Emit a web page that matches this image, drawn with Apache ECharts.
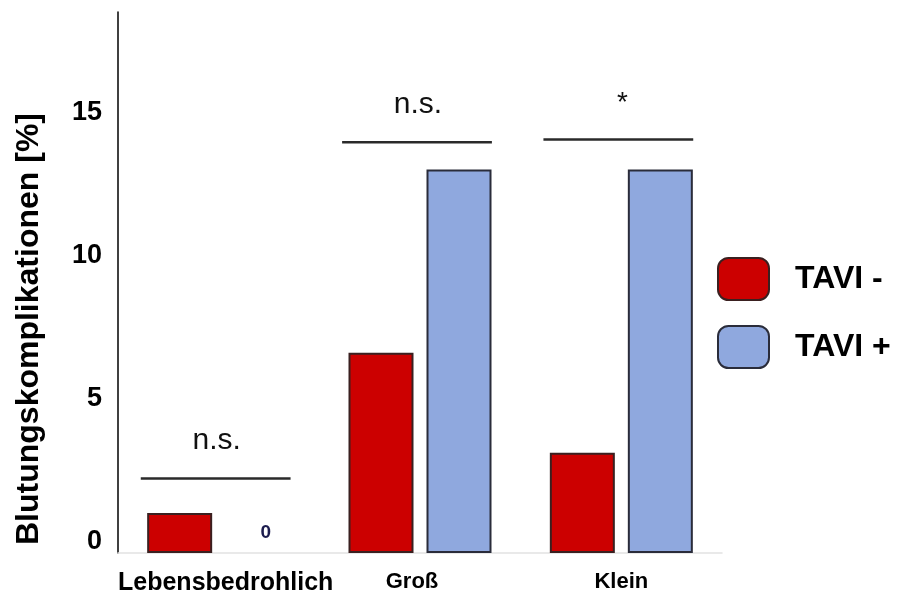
<!DOCTYPE html>
<html>
<head>
<meta charset="utf-8">
<script src="https://cdn.jsdelivr.net/npm/echarts@6/dist/echarts.min.js"></script>
<style>
  html, body { margin: 0; padding: 0; background: #fff; }
  #chart { width: 898px; height: 596px; }
</style>
</head>
<body>
<div id="chart"></div>
<script>
// Bleeding complications by severity, with and without TAVI
const categories = ['Lebensbedrohlich', 'Groß', 'Klein'];
const taviMinus = [1.4, 7.0, 3.5];
const taviPlus = [0, 13.4, 13.4];
const seriesNames = ['TAVI -', 'TAVI +'];

// Significance brackets above each group
const bracketLevels = [2.6, 14.35, 14.45];
const bracketLabels = ['n.s.', 'n.s.', '*'];

const yTicks = [0, 5, 10, 15];

const FONT = '"Liberation Sans", Arial, Helvetica, sans-serif';

const chart = echarts.init(document.getElementById('chart'), null, { renderer: 'canvas' });

const bracketData = categories.map((c, i) => [i, bracketLevels[i], bracketLabels[i]]);

// per-category label styles (first label is set wider, second sits a little left)
const labelStyleKeys = ['wide', 'left', 'n'];

const option = {
  animation: false,
  backgroundColor: '#ffffff',
  grid: { left: 118, right: 176, top: 12, bottom: 43, containLabel: false },
  xAxis: {
    type: 'category',
    data: categories,
    axisLine: { show: true, lineStyle: { color: '#e2e2e2', width: 1.5 } },
    axisTick: { show: false },
    axisLabel: {
      interval: 0,
      margin: 18,
      formatter: (v, i) => '{' + labelStyleKeys[i] + '|' + v + '}',
      rich: {
        wide: { color: '#000', fontFamily: FONT, fontWeight: 'bold', fontSize: 25, padding: [0, 0, 0, 14] },
        left: { color: '#000', fontFamily: FONT, fontWeight: 'bold', fontSize: 22, padding: [0, 16, 0, 0] },
        n: { color: '#000', fontFamily: FONT, fontWeight: 'bold', fontSize: 22, padding: [0, 0, 0, 0] }
      }
    }
  },
  yAxis: {
    type: 'value',
    min: 0,
    max: 18.9,
    interval: 5,
    splitLine: { show: false },
    axisTick: { show: false },
    axisLine: { show: true, lineStyle: { color: '#000', width: 1.5 } },
    axisLabel: {
      color: '#000', fontFamily: FONT, fontWeight: 'bold', fontSize: 27, margin: 16,
      verticalAlign: 'bottom',
      lineHeight: 22,
      formatter: v => (yTicks.indexOf(v) >= 0 ? String(v) : '')
    }
  },
  legend: {
    orient: 'vertical',
    left: 717,
    top: 257,
    padding: 0,
    itemWidth: 51,
    itemHeight: 42,
    itemGap: 24,
    icon: 'roundRect',
    data: seriesNames,
    textStyle: {
      color: '#000', fontFamily: FONT, fontWeight: 'bold', fontSize: 32,
      padding: [0, 0, 0, 21]
    }
  },
  graphic: [{
    type: 'text',
    left: 13,
    top: 113,
    rotation: Math.PI / 2,
    style: {
      text: 'Blutungskomplikationen [%]',
      font: 'bold 32px ' + FONT,
      fill: '#000'
    }
  }],
  series: [
    {
      name: seriesNames[0],
      type: 'bar',
      data: taviMinus,
      barWidth: 65,
      barGap: '20%',
      itemStyle: { color: '#cc0000', borderColor: '#3a2020', borderWidth: 2, borderRadius: 0 }
    },
    {
      name: seriesNames[1],
      type: 'bar',
      data: taviPlus.map(v => v === 0
        ? { value: v, label: { show: true }, itemStyle: { borderWidth: 0 } }
        : v),
      barWidth: 65,
      barGap: '20%',
      itemStyle: { color: '#8fa8de', borderColor: '#2a2c3a', borderWidth: 2, borderRadius: 0 },
      label: {
        show: false,
        position: 'top',
        distance: 11,
        offset: [8, 0],
        color: '#1c1c4e',
        fontFamily: FONT,
        fontWeight: 'bold',
        fontSize: 19,
        formatter: p => String(p.value)
      }
    },
    {
      type: 'custom',
      name: 'brackets',
      data: bracketData,
      silent: true,
      z: 5,
      renderItem: function (params, api) {
        const pt = api.coord([api.value(0), api.value(1)]);
        const bw = api.size([1, 0])[0];
        const half = bw * 0.372;
        const cx = pt[0] - 3;
        const label = bracketLabels[params.dataIndex];
        const isStar = label === '*';
        return {
          type: 'group',
          children: [
            {
              type: 'line',
              shape: { x1: cx - half, y1: pt[1], x2: cx + half, y2: pt[1] },
              style: { stroke: '#2a2a2a', lineWidth: 2.5 }
            },
            {
              type: 'text',
              style: {
                text: label,
                x: cx + (isStar ? 4 : 1),
                y: pt[1] - (isStar ? 36 : 38),
                textAlign: 'center',
                textVerticalAlign: 'middle',
                font: (isStar ? '28px ' : '30px ') + FONT,
                fill: '#111'
              }
            }
          ]
        };
      }
    }
  ]
};

chart.setOption(option);
</script>
</body>
</html>
